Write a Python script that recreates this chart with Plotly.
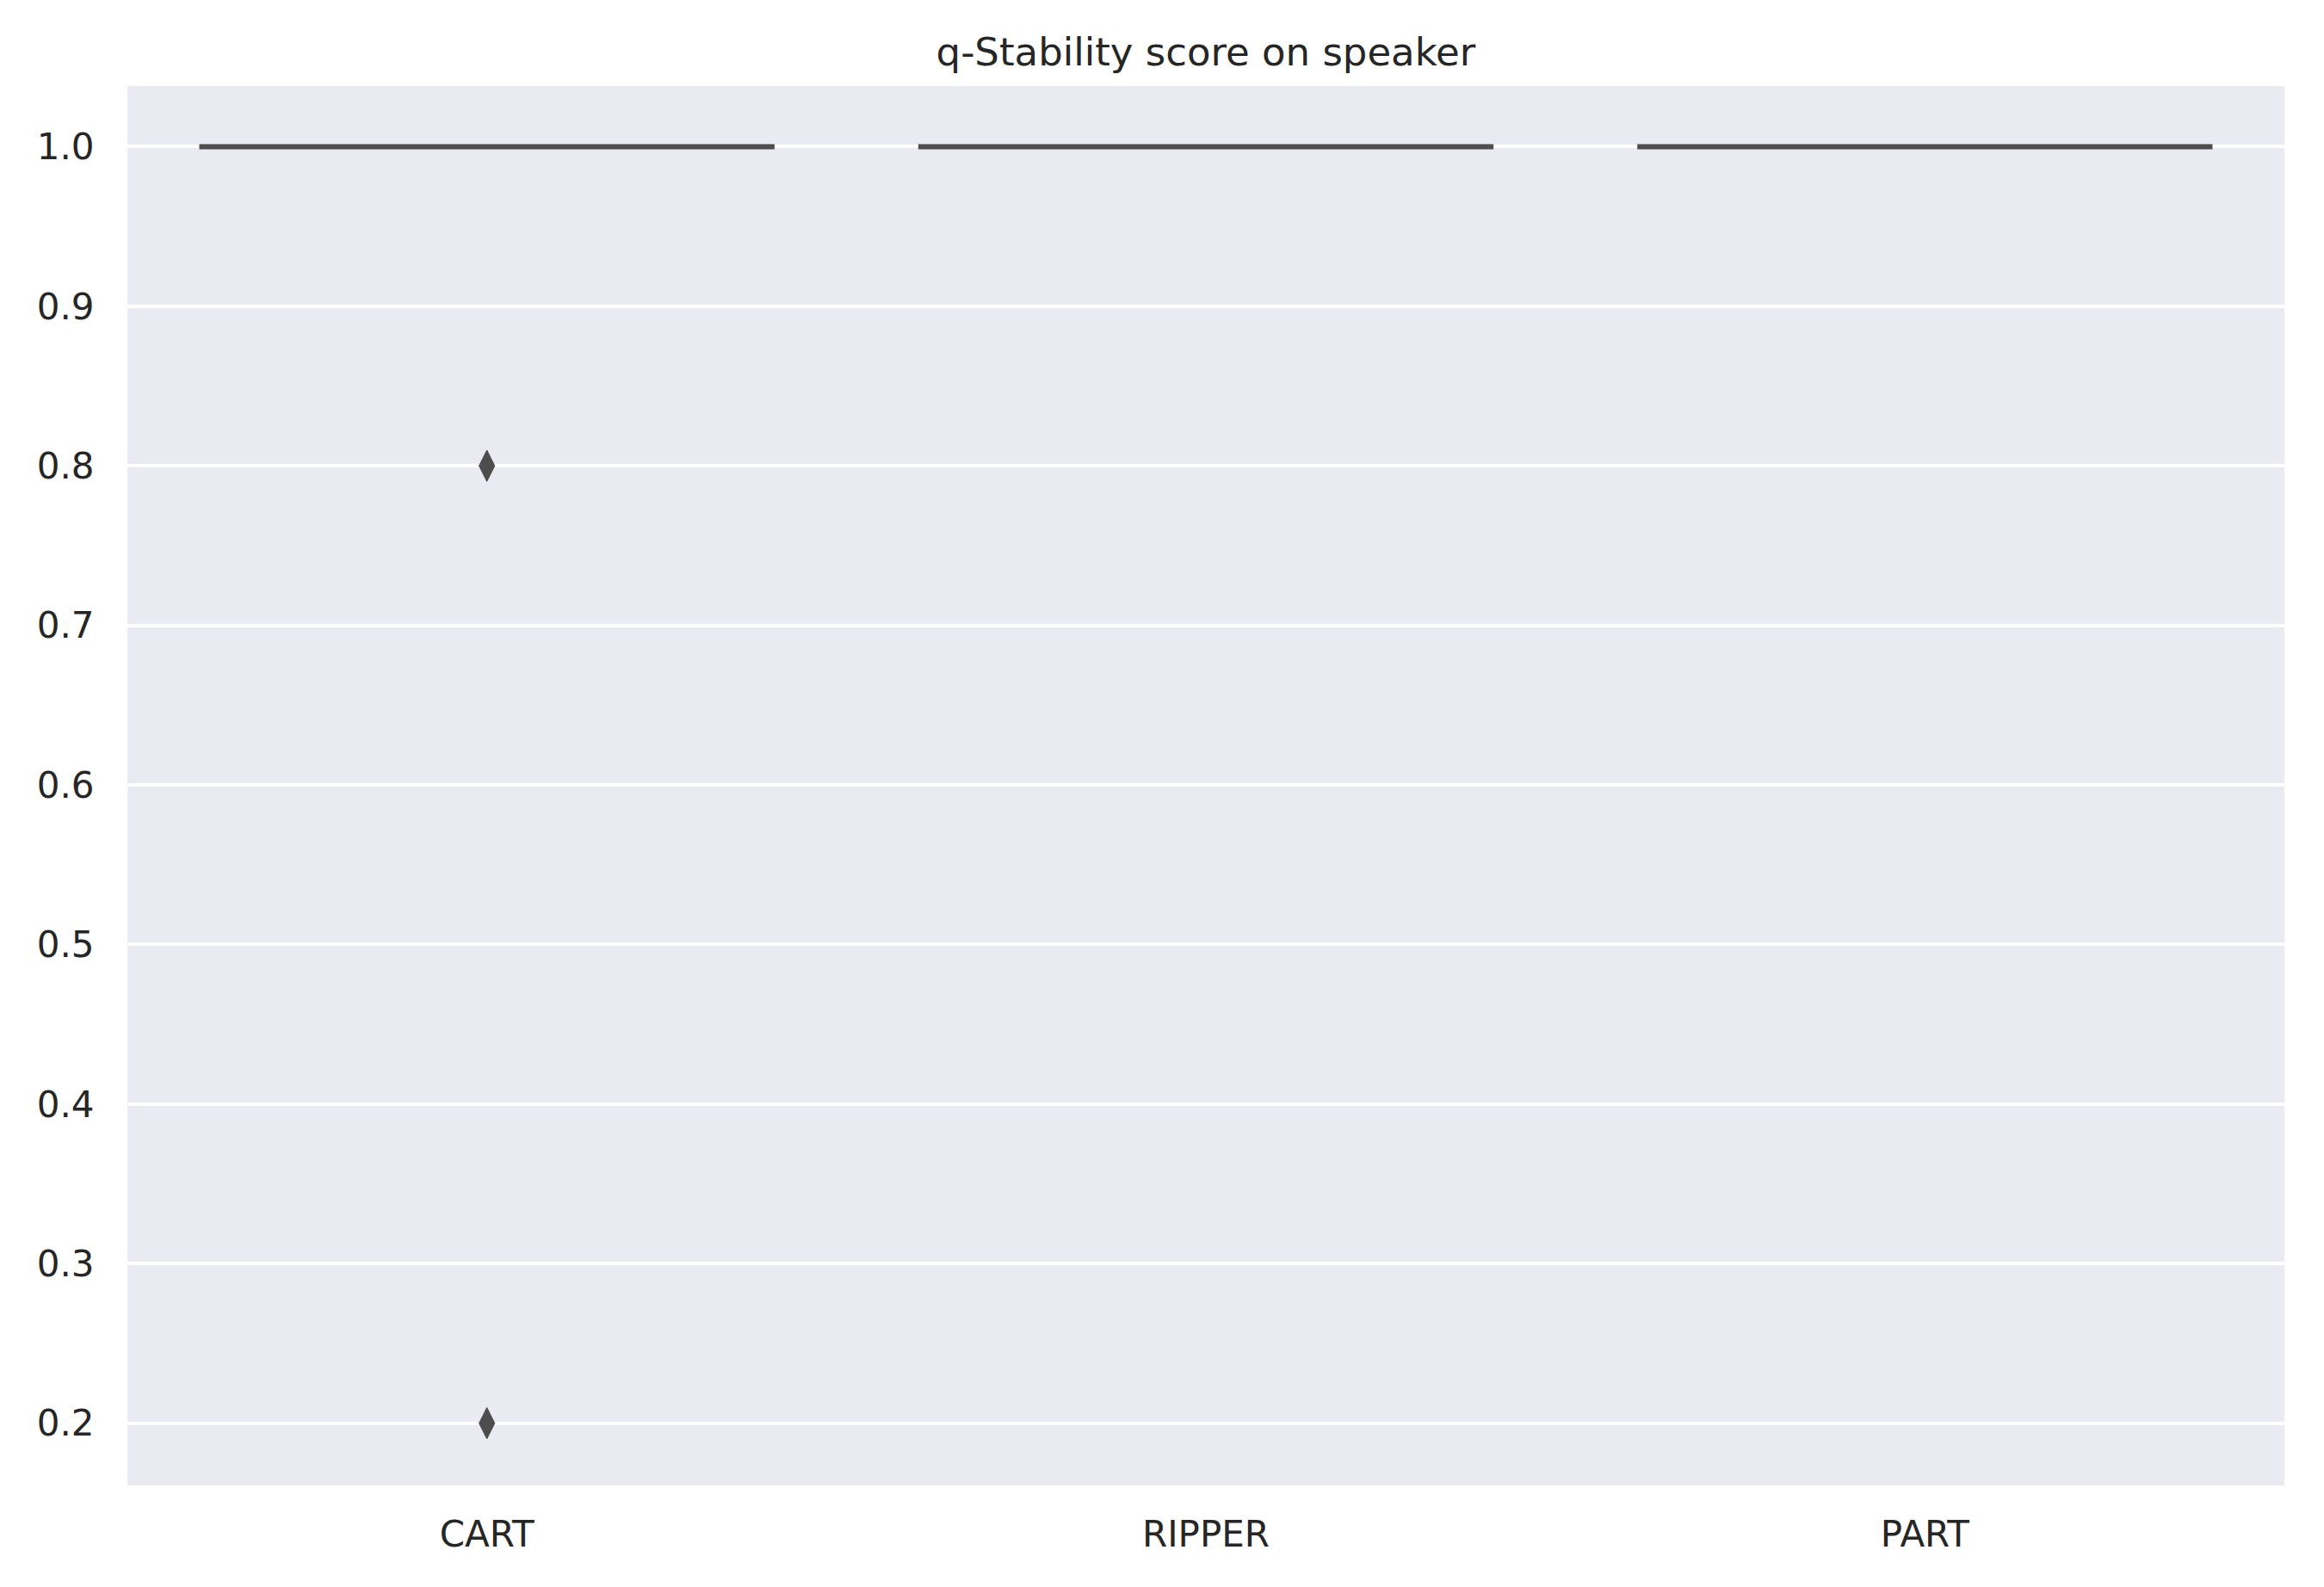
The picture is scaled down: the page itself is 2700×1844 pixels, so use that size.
import plotly.graph_objs as go

# q-stability per fold
models = ['CART', 'RIPPER', 'PART']
cart = [1.0, 1.0, 1.0, 1.0, 1.0, 1.0, 1.0, 1.0, 0.8, 0.2]
ripper = [1.0, 1.0, 1.0, 1.0, 1.0, 1.0, 1.0, 1.0, 1.0, 1.0]
part = [1.0, 1.0, 1.0, 1.0, 1.0, 1.0, 1.0, 1.0, 1.0, 1.0]
y_ticks = [0.2, 0.3, 0.4, 0.5, 0.6, 0.7, 0.8, 0.9, 1.0]

fills = ['#4c72b0', '#dd8452', '#55a868']
edge = '#4d4d4d'

fig = go.Figure()
for name, vals, fc in zip(models, [cart, ripper, part], fills):
    fig.add_trace(go.Box(
        x=[name] * len(vals), y=vals, name=name,
        width=0.8, whiskerwidth=0.5,
        fillcolor=fc, line=dict(color=edge, width=6),
        boxpoints='outliers', jitter=0, pointpos=0,
        marker=dict(symbol='diamond-tall', size=26, color=edge,
                    line=dict(color=edge, width=1)),
        showlegend=False,
    ))

# page body adds an 8px offset, margins compensate
fig.update_layout(
    title=dict(text='q-Stability score on speaker', x=0.5159, xanchor='center',
               y=1 - 52 / 1844, yanchor='middle',
               font=dict(size=45, color='#262626')),
    width=2700, height=1844,
    margin=dict(l=140, r=54, t=92, b=126, autoexpand=False),
    paper_bgcolor='white', plot_bgcolor='#eaeaf2',
    font=dict(family='DejaVu Sans', size=42, color='#262626'),
    boxmode='overlay',
)
fig.update_xaxes(categoryorder='array', categoryarray=models,
                 range=[-0.5, 2.5], automargin=False,
                 showgrid=False, zeroline=False, showline=False,
                 ticks='outside', ticklen=20, tickcolor='rgba(0,0,0,0)',
                 tickfont=dict(size=42))
fig.update_yaxes(range=[0.161, 1.038], tickvals=y_ticks, automargin=False,
                 ticktext=['%.1f' % v for v in y_ticks],
                 showgrid=True, gridcolor='white', gridwidth=3.5,
                 zeroline=False, showline=False,
                 ticks='outside', ticklen=29, tickcolor='rgba(0,0,0,0)',
                 tickfont=dict(size=42))

fig.write_html("out.html")
